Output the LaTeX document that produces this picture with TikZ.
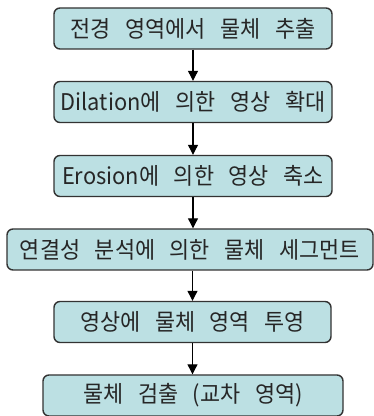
\documentclass[tikz,border=0pt]{standalone}
\usepackage{fontspec}
\setmainfont{Noto Sans CJK KR}
\newfontfamily\boxfont[FakeStretch=0.95, WordSpace=3]{Noto Sans CJK KR}
\usetikzlibrary{arrows.meta}
\definecolor{boxfill}{HTML}{BCE0E3}
\definecolor{boxline}{HTML}{333333}
\tikzset{
  stepbox/.style={draw=boxline, fill=boxfill, line width=1.4pt, rounded corners=6pt,
    minimum height=41pt, inner sep=0pt, font=\boxfont\fontsize{23}{26}\selectfont, text=black!85},
  flow/.style={draw=black, line width=1.1pt, -{Triangle[length=10pt,width=10pt]}}
}
\begin{document}
\begin{tikzpicture}[x=1pt,y=1pt]
\useasboundingbox (0,0) rectangle (374,416);
\node[stepbox, minimum width=278pt] (b1) at (193,387.5) {전경 영역에서 물체 추출};
\node[stepbox, minimum width=278pt] (b2) at (193,314) {Dilation에 의한 영상 확대};
\node[stepbox, minimum width=278pt] (b3) at (193,240) {Erosion에 의한 영상 축소};
\node[stepbox, minimum width=366pt] (b4) at (190,166.5) {연결성 분석에 의한 물체 세그먼트};
\node[stepbox, minimum width=277pt] (b5) at (192.5,94) {영상에 물체 영역 투영};
\node[stepbox, minimum width=300pt] (b6) at (193,20.5) {물체 검출 (교차 영역)};
\draw[flow] (b1.south) -- (b2.north);
\draw[flow] (b2.south) -- (b3.north);
\draw[flow] (b3.south) -- (b3.south |- b4.north);
\draw[flow] (b4.south -| b5.north) -- (b5.north);
\draw[flow] (b5.south) -- (b5.south |- b6.north);
\end{tikzpicture}
\end{document}
